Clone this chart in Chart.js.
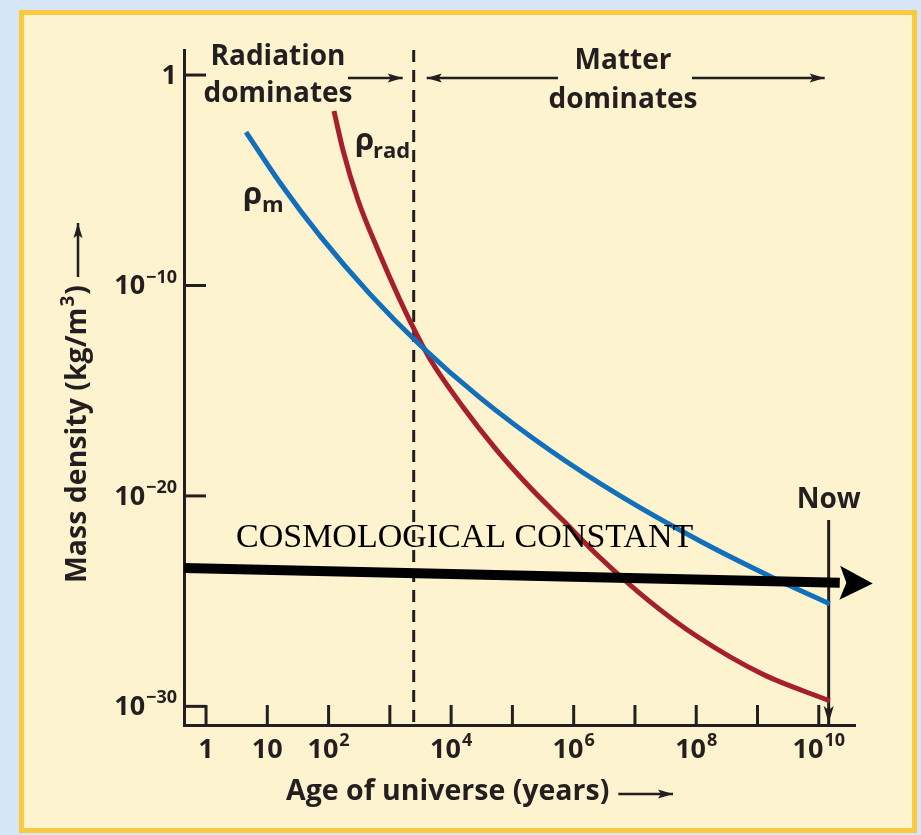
<!DOCTYPE html>
<html>
<head>
<meta charset="utf-8">
<title>Mass density of the universe</title>
<script src="https://cdn.jsdelivr.net/npm/chart.js@4.4.0/dist/chart.umd.min.js"></script>
<style>
  html, body { margin: 0; padding: 0; background: #d7e6f6; }
  #wrap { position: relative; width: 921px; height: 835px; }
</style>
</head>
<body>
<div id="wrap"><canvas id="density-chart"></canvas></div>
<script>
// age of universe in years, mass density in kg/m^3
const matterAge = [4.49, 16.1, 72.4, 474, 3.10e3, 2.95e4, 4.09e5, 5.67e6, 1.15e8, 1.59e9, 1.51e10];
const matterDensity = [1.96e-3, 7.65e-6, 2.27e-8, 3.86e-11, 1.49e-13, 4.68e-16, 1.47e-18, 1.02e-20, 7.2e-23, 1.53e-24, 7.4e-26];

const radiationAge = [122.5, 171.8, 301.7, 639.5, 1461, 2768, 4510, 1.558e4, 5.585e4, 1.93e5, 6.664e5, 2.676e6, 1.751e7, 1.023e8, 1.221e9, 1.511e10];
const radiationDensity = [1.95e-2, 2.74e-4, 1.15e-6, 4.86e-9, 2.05e-11, 4.45e-13, 3.22e-14, 1.69e-16, 1.47e-18, 2.57e-20, 6.93e-22, 1.19e-23, 9.52e-26, 2.14e-27, 3.31e-29, 1.82e-30];

const lambdaAge = [0.437, 2.2e10];
const lambdaDensity = [3.8e-24, 7.4e-25];

const equalityAge = 2.45e3;
const nowAge = 1.45e10;
const nowArrowTop = 7.2e-22;

const ageMin = 0.437, ageMax = 3.9e10;
const densityMin = 1.3e-31, densityMax = 15.5;

const ageTicks = [1, 10, 1e2, 1e3, 1e4, 1e5, 1e6, 1e7, 1e8, 1e9, 1e10];
const ageTickLabels = ['1', '10', '10^2', '', '10^4', '', '10^6', '', '10^8', '', '10^10'];
const densityTicks = [1, 1e-10, 1e-20, 1e-30];
const densityTickLabels = ['1', '10^\u221210', '10^\u221220', '10^\u221230'];

const INK = '#231f20';
const SANS = '"Open Sans", "Noto Sans", sans-serif';
const font = (size, weight = 700) => `${weight} ${size}px ${SANS}`;

const toPoints = (xs, ys) => xs.map((v, i) => ({ x: v, y: ys[i] }));

function drawPower(ctx, label, x, y, align) {
  const [base, exp] = label.split('^');
  ctx.font = font(27);
  const wb = ctx.measureText(base).width;
  let we = 0;
  if (exp) {
    ctx.font = font(18);
    we = ctx.measureText(exp).width + 1;
  }
  const left = align === 'right' ? x - wb - we : x - (wb + we) / 2;
  ctx.textAlign = 'left';
  ctx.textBaseline = 'middle';
  ctx.font = font(27);
  ctx.fillText(base, left, y);
  if (exp) {
    ctx.font = font(18);
    ctx.fillText(exp, left + wb + 1, y - 9);
  }
}

function arrowHead(ctx, x, y, angle, len, half) {
  ctx.save();
  ctx.translate(x, y);
  ctx.rotate(angle);
  ctx.beginPath();
  ctx.moveTo(0, 0);
  ctx.lineTo(-len, -half);
  ctx.lineTo(-len * 0.8, 0);
  ctx.lineTo(-len, half);
  ctx.closePath();
  ctx.fill();
  ctx.restore();
}

function arrow(ctx, x1, y1, x2, y2) {
  ctx.beginPath();
  ctx.moveTo(x1, y1);
  ctx.lineTo(x2, y2);
  ctx.stroke();
  arrowHead(ctx, x2, y2, Math.atan2(y2 - y1, x2 - x1), 15, 4.5);
}

const annotations = {
  id: 'annotations',
  beforeDraw(chart) {
    const { ctx, width, height } = chart;
    ctx.save();
    ctx.fillStyle = '#d7e6f6';
    ctx.fillRect(0, 0, width, height);
    ctx.fillStyle = '#fdf3cf';
    ctx.fillRect(19, 10, 898, 823);
    ctx.strokeStyle = '#f9c940';
    ctx.lineWidth = 5;
    ctx.strokeRect(21.5, 12.5, 893, 818);
    ctx.restore();
  },
  afterDatasetsDraw(chart) {
    const { ctx, chartArea, scales: { x, y } } = chart;
    ctx.save();
    ctx.strokeStyle = INK;
    ctx.fillStyle = INK;

    // inward tick marks
    ctx.lineWidth = 3;
    ageTicks.forEach(v => {
      const px = x.getPixelForValue(v);
      ctx.beginPath();
      ctx.moveTo(px, chartArea.bottom);
      ctx.lineTo(px, chartArea.bottom - 20);
      ctx.stroke();
    });
    densityTicks.forEach(v => {
      const py = y.getPixelForValue(v);
      ctx.beginPath();
      ctx.moveTo(chartArea.left, py);
      ctx.lineTo(chartArea.left + 22, py);
      ctx.stroke();
    });

    // tick labels
    ageTicks.forEach((v, i) => {
      if (ageTickLabels[i]) drawPower(ctx, ageTickLabels[i], x.getPixelForValue(v), chartArea.bottom + 25);
    });
    densityTicks.forEach((v, i) => {
      drawPower(ctx, densityTickLabels[i], chartArea.left - 7, y.getPixelForValue(v) + 1, 'right');
    });

    // arrowheads on the cosmological constant and "Now" lines
    const lambda = chart.getDatasetMeta(0).data;
    const a = lambda[lambda.length - 2], b = lambda[lambda.length - 1];
    ctx.fillStyle = '#000';
    arrowHead(ctx, b.x + 33, b.y + 0.6, Math.atan2(b.y - a.y, b.x - a.x), 33, 17);
    ctx.fillStyle = INK;
    const now = chart.getDatasetMeta(3).data;
    const nb = now[now.length - 1];
    ctx.beginPath();
    ctx.moveTo(nb.x, nb.y - 2);
    ctx.lineTo(nb.x - 5, nb.y - 19);
    ctx.lineTo(nb.x, nb.y - 15);
    ctx.lineTo(nb.x + 5, nb.y - 19);
    ctx.closePath();
    ctx.fill();

    // regime labels
    const eqX = x.getPixelForValue(equalityAge);
    const nowX = x.getPixelForValue(nowAge);
    ctx.textBaseline = 'alphabetic';
    ctx.textAlign = 'center';
    ctx.font = font(28);
    ctx.fillText('Radiation', 278, 65);
    ctx.fillText('dominates', 278, 102);
    ctx.fillText('Matter', 623, 69);
    ctx.fillText('dominates', 623, 108);
    ctx.fillText('Now', nowX, 508);
    ctx.lineWidth = 2.5;
    arrow(ctx, 348, 78, eqX - 11, 78);
    arrow(ctx, 558, 78, eqX + 13, 78);
    arrow(ctx, 692, 78, nowX - 4, 78);

    // curve labels
    ctx.textAlign = 'left';
    ctx.font = font(31);
    ctx.fillText('\u03c1', 243, 204);
    ctx.fillText('\u03c1', 355, 150);
    ctx.font = font(22);
    ctx.fillText('m', 262, 212);
    ctx.fillText('rad', 373, 158);

    ctx.font = '34px "Liberation Serif", "Times New Roman", serif';
    ctx.fillStyle = '#000';
    ctx.fillText('COSMOLOGICAL CONSTANT', 236, 547);
    ctx.fillStyle = INK;

    // axis titles
    ctx.font = font(28.5);
    ctx.fillText('Age of universe (years)', 286, 800);
    const xt = 286 + ctx.measureText('Age of universe (years)').width;
    arrow(ctx, xt + 9, 794, 673, 794);

    ctx.save();
    ctx.translate(86, 583);
    ctx.rotate(-Math.PI / 2);
    const t1 = 'Mass density (kg/m';
    ctx.font = font(28.5);
    ctx.fillText(t1, 0, 0);
    let w = ctx.measureText(t1).width;
    ctx.font = font(19);
    ctx.fillText('3', w + 1, -12);
    w += ctx.measureText('3').width + 2;
    ctx.font = font(28.5);
    ctx.fillText(')', w, 0);
    w += ctx.measureText(')').width;
    arrow(ctx, w + 8, -8, 583 - 223, -8);
    ctx.restore();

    ctx.restore();
  }
};

const ctx = document.getElementById('density-chart').getContext('2d');
new Chart(ctx, {
  type: 'line',
  data: {
    datasets: [
      {
        label: 'Cosmological constant',
        data: toPoints(lambdaAge, lambdaDensity),
        borderColor: '#000',
        borderWidth: 10,
        borderCapStyle: 'butt',
        pointRadius: 0,
        tension: 0,
        order: 0
      },
      {
        label: 'rho_m',
        data: toPoints(matterAge, matterDensity),
        borderColor: '#1170b9',
        borderWidth: 5,
        pointRadius: 0,
        cubicInterpolationMode: 'monotone',
        order: 1
      },
      {
        label: 'rho_rad',
        data: toPoints(radiationAge, radiationDensity),
        borderColor: '#a51f2c',
        borderWidth: 5,
        pointRadius: 0,
        cubicInterpolationMode: 'monotone',
        order: 2
      },
      {
        label: 'Now',
        data: [{ x: nowAge, y: nowArrowTop }, { x: nowAge, y: densityMin }],
        borderColor: INK,
        borderWidth: 3,
        pointRadius: 0,
        tension: 0,
        order: 3
      },
      {
        label: 'Matter-radiation equality',
        data: [{ x: equalityAge, y: densityMax }, { x: equalityAge, y: densityMin }],
        borderColor: INK,
        borderWidth: 3,
        borderDash: [12, 8],
        pointRadius: 0,
        tension: 0,
        order: 4
      }
    ]
  },
  options: {
    responsive: true,
    maintainAspectRatio: false,
    animation: false,
    layout: { padding: { left: 184, right: 66, top: 50, bottom: 110 } },
    plugins: { legend: { display: false }, tooltip: { enabled: false } },
    scales: {
      x: {
        type: 'logarithmic',
        min: ageMin,
        max: ageMax,
        ticks: { display: false },
        grid: { display: false, drawTicks: false },
        border: { color: INK, width: 3 }
      },
      y: {
        type: 'logarithmic',
        min: densityMin,
        max: densityMax,
        ticks: { display: false },
        grid: { display: false, drawTicks: false },
        border: { color: INK, width: 3 }
      }
    }
  },
  plugins: [annotations]
});
</script>
</body>
</html>
